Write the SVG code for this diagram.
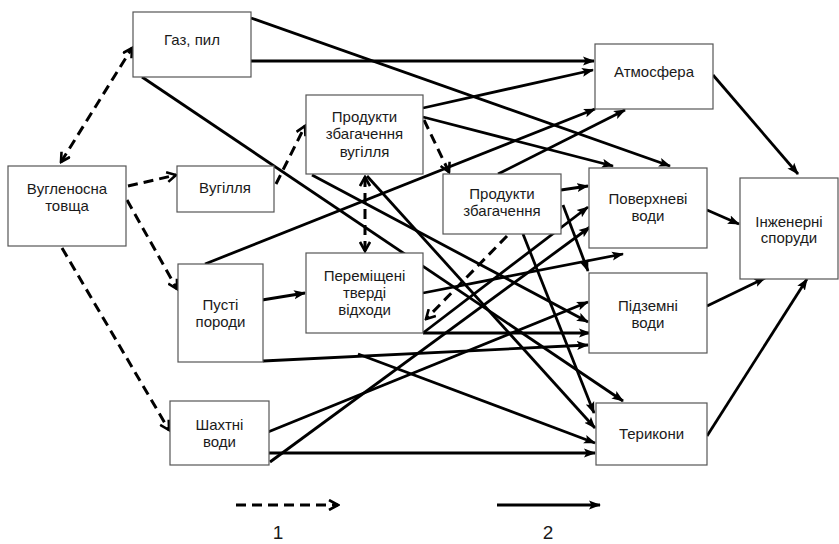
<svg xmlns="http://www.w3.org/2000/svg" width="839" height="544" viewBox="0 0 839 544">
<defs>
<style>
.box{fill:#fff;stroke:#555;stroke-width:1.2}
.t{font-family:"Liberation Sans",Arial,sans-serif;font-size:15px;fill:#1a1a1a;text-anchor:middle}
.s{stroke:#000;stroke-width:2.8;fill:none;marker-end:url(#ah)}
.d{stroke:#000;stroke-width:3;fill:none;stroke-dasharray:10 6;marker-end:url(#oh)}
.num{font-family:"Liberation Sans",Arial,sans-serif;font-size:19px;fill:#1a1a1a;text-anchor:middle}
</style>
<marker id="ah" viewBox="0 0 12 10" refX="11" refY="5" markerWidth="12" markerHeight="10" markerUnits="userSpaceOnUse" orient="auto">
<path d="M0,0.5 L12,5 L0,9.5 L2.5,5 z" fill="#000"/>
</marker>
<marker id="oh" viewBox="0 0 12 12" refX="10" refY="6" markerWidth="12" markerHeight="12" markerUnits="userSpaceOnUse" orient="auto-start-reverse">
<path d="M1,1 L10,6 L1,11" fill="none" stroke="#000" stroke-width="2.6"/>
</marker>
</defs>
<rect width="839" height="544" fill="#fff"/>

<g id="connectors">
<!-- dashed -->
<line class="d" x1="61" y1="162" x2="132" y2="48" style="marker-start:url(#oh)"/>
<line class="d" x1="128" y1="186" x2="176" y2="175"/>
<line class="d" x1="127" y1="200" x2="177" y2="289"/>
<line class="d" x1="62" y1="248" x2="169" y2="430"/>
<line class="d" x1="276" y1="184" x2="305" y2="126"/>
<line class="d" x1="424" y1="120" x2="449" y2="172"/>
<line class="d" x1="365" y1="177" x2="365" y2="251" style="marker-start:url(#oh)"/>
<line class="d" x1="507" y1="236" x2="426" y2="319"/>
<!-- solid -->
<line class="s" x1="251" y1="18" x2="670" y2="166"/>
<line class="s" x1="251" y1="61" x2="594" y2="61"/>
<line class="s" x1="142" y1="77" x2="623" y2="401"/>
<line class="s" x1="423" y1="108" x2="593" y2="70"/>
<line class="s" x1="423" y1="117" x2="613" y2="166"/>
<line class="s" x1="312" y1="175" x2="588" y2="322"/>
<line class="s" x1="367" y1="176" x2="595" y2="428"/>
<line class="s" x1="205" y1="264" x2="595" y2="109"/>
<line class="s" x1="498" y1="174" x2="625" y2="110"/>
<line class="s" x1="561" y1="190" x2="588" y2="186"/>
<line class="s" x1="563" y1="205" x2="588" y2="271"/>
<line class="s" x1="523" y1="234" x2="594" y2="413"/>
<line class="s" x1="262" y1="300" x2="305" y2="293"/>
<line class="s" x1="263" y1="361" x2="588" y2="345"/>
<line class="s" x1="358" y1="354" x2="595" y2="443"/>
<line class="s" x1="423" y1="293" x2="623" y2="254"/>
<line class="s" x1="423" y1="333" x2="590" y2="333"/>
<line class="s" x1="423" y1="333" x2="588" y2="207"/>
<line class="s" x1="268" y1="432" x2="588" y2="302"/>
<line class="s" x1="270" y1="462" x2="590" y2="227"/>
<line class="s" x1="269" y1="453" x2="595" y2="453"/>
<line class="s" x1="713" y1="75" x2="798" y2="174"/>
<line class="s" x1="707" y1="210" x2="739" y2="224"/>
<line class="s" x1="707" y1="306" x2="765" y2="278"/>
<line class="s" x1="707" y1="436" x2="807" y2="279"/>
<!-- legend -->
<line class="d" x1="236" y1="505" x2="338" y2="505"/>
<line class="s" x1="497" y1="505" x2="600" y2="505"/>
</g>

<g id="n-gaz"><rect class="box" x="133" y="12" width="118" height="65"/><text class="t" x="192" y="45">Газ, пил</text></g>
<g id="n-tovshcha"><rect class="box" x="8" y="166" width="118" height="80"/><text class="t" x="67" y="194">Вугленосна</text><text class="t" x="67" y="211">товща</text></g>
<g id="n-vugillia"><rect class="box" x="177" y="166" width="97" height="46"/><text class="t" x="225" y="193">Вугілля</text></g>
<g id="n-pzv"><rect class="box" x="306" y="95" width="117" height="79"/><text class="t" x="364.5" y="122">Продукти</text><text class="t" x="364.5" y="139">збагачення</text><text class="t" x="364.5" y="157">вугілля</text></g>
<g id="n-pz"><rect class="box" x="443" y="174" width="118" height="60"/><text class="t" x="502" y="199">Продукти</text><text class="t" x="502" y="216">збагачення</text></g>
<g id="n-atm"><rect class="box" x="595" y="44" width="118" height="65"/><text class="t" x="654" y="77">Атмосфера</text></g>
<g id="n-pov"><rect class="box" x="589" y="168" width="118" height="80"/><text class="t" x="648" y="204">Поверхневі</text><text class="t" x="648" y="221">води</text></g>
<g id="n-inzh"><rect class="box" x="740" y="178" width="98" height="101"/><text class="t" x="789" y="227">Інженерні</text><text class="t" x="789" y="243">споруди</text></g>
<g id="n-pidz"><rect class="box" x="589" y="273" width="118" height="80"/><text class="t" x="648" y="311">Підземні</text><text class="t" x="648" y="328">води</text></g>
<g id="n-ter"><rect class="box" x="596" y="403" width="111" height="62"/><text class="t" x="651.5" y="439">Терикони</text></g>
<g id="n-pusti"><rect class="box" x="178" y="264" width="85" height="98"/><text class="t" x="220.5" y="310">Пусті</text><text class="t" x="220.5" y="327">породи</text></g>
<g id="n-shakh"><rect class="box" x="170" y="401" width="99" height="64"/><text class="t" x="219.5" y="430">Шахтні</text><text class="t" x="219.5" y="447">води</text></g>
<g id="n-perem"><rect class="box" x="306" y="253" width="117" height="80"/><text class="t" x="364.5" y="281">Переміщені</text><text class="t" x="364.5" y="298">тверді</text><text class="t" x="364.5" y="315">відходи</text></g>

<g id="legend"><text class="num" x="278" y="539">1</text><text class="num" x="548" y="539">2</text></g>
</svg>
